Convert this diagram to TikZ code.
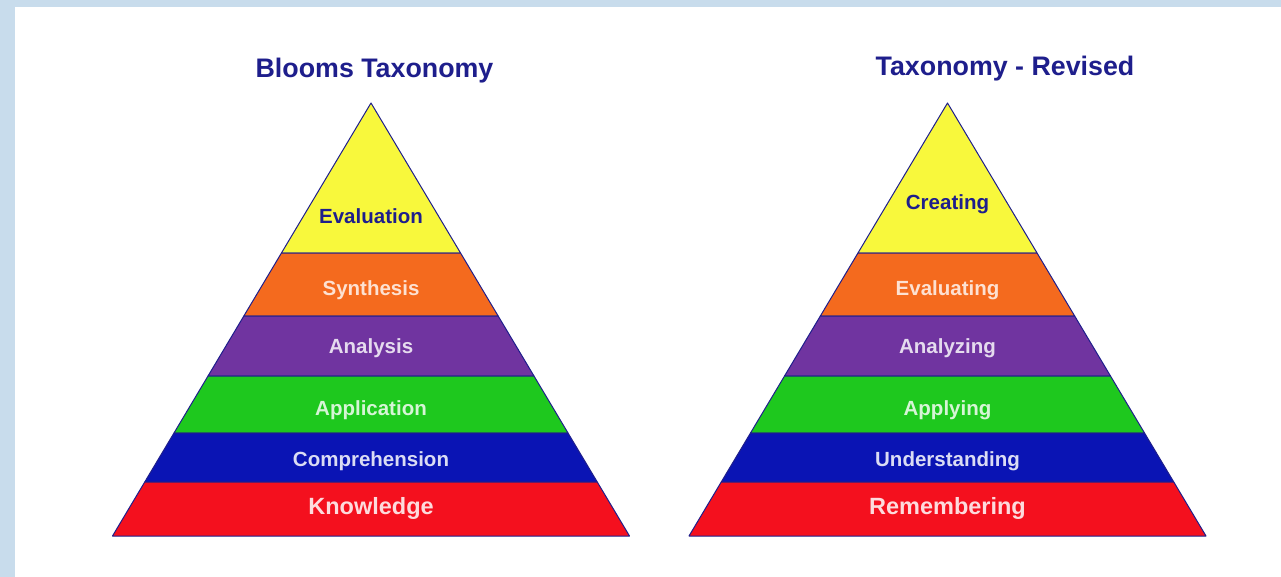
\documentclass[tikz,border=0pt]{standalone}
\usepackage{fontspec}
\setmainfont{Liberation Sans}
\definecolor{bgblue}{HTML}{C8DCEC}
\definecolor{navy}{HTML}{1E1E8C}
\definecolor{byellow}{HTML}{F8F83C}
\definecolor{borange}{HTML}{F46A1E}
\definecolor{bpurple}{HTML}{7034A0}
\definecolor{bgreen}{HTML}{1EC81E}
\definecolor{bblue}{HTML}{0A14B4}
\definecolor{bred}{HTML}{F4101E}
\tikzset{
  title/.style={font=\bfseries\fontsize{26.8}{30}\selectfont, text=navy, inner sep=0pt},
  lbl/.style={font=\bfseries\fontsize{20.5}{24}\selectfont, inner sep=0pt},
  biglbl/.style={font=\bfseries\fontsize{23.5}{27}\selectfont, inner sep=0pt},
  band/.style={draw=navy, line width=1pt, line join=round}
}
\begin{document}
\begin{tikzpicture}[x=1pt,y=-1pt]
\useasboundingbox (0,0) rectangle (1281,577);
\fill[bgblue] (0,0) rectangle (1281,577);
\fill[white] (15,7) rectangle (1281,577);
\def\k{0.597}
\foreach \c in {371,947.5}{
  \foreach \t/\b/\col in {103/253/byellow,253/316/borange,316/376/bpurple,376/433/bgreen,433/482/bblue,482/536/bred}{
    \filldraw[band, fill=\col] ({\c-\k*(\t-103)},\t) -- ({\c+\k*(\t-103)},\t) -- ({\c+\k*(\b-103)},\b) -- ({\c-\k*(\b-103)},\b) -- cycle;
  }
}
\node[title] (t1) at (374.5,71) {Blooms Taxonomy};
\node[title] (t2) at (1005,69) {Taxonomy - Revised};
% left pyramid
\node[lbl, text=navy] (l1) at (371,216) {Evaluation};
\node[lbl, text=white!80!borange] (l2) at (371,290) {Synthesis};
\node[lbl, text=white!82!bpurple] (l3) at (371,348) {Analysis};
\node[lbl, text=white!82!bgreen] (l4) at (371,410) {Application};
\node[lbl, text=white!85!bblue] (l5) at (371,461) {Comprehension};
\node[biglbl, text=white!85!bred] (l6) at (371,508) {Knowledge};
% right pyramid
\node[lbl, text=navy] (r1) at (947.5,204) {Creating};
\node[lbl, text=white!80!borange] (r2) at (947.5,290) {Evaluating};
\node[lbl, text=white!82!bpurple] (r3) at (947.5,348) {Analyzing};
\node[lbl, text=white!82!bgreen] (r4) at (947.5,410) {Applying};
\node[lbl, text=white!85!bblue] (r5) at (947.5,461) {Understanding};
\node[biglbl, text=white!85!bred] (r6) at (947.5,508) {Remembering};
\end{tikzpicture}
\end{document}
